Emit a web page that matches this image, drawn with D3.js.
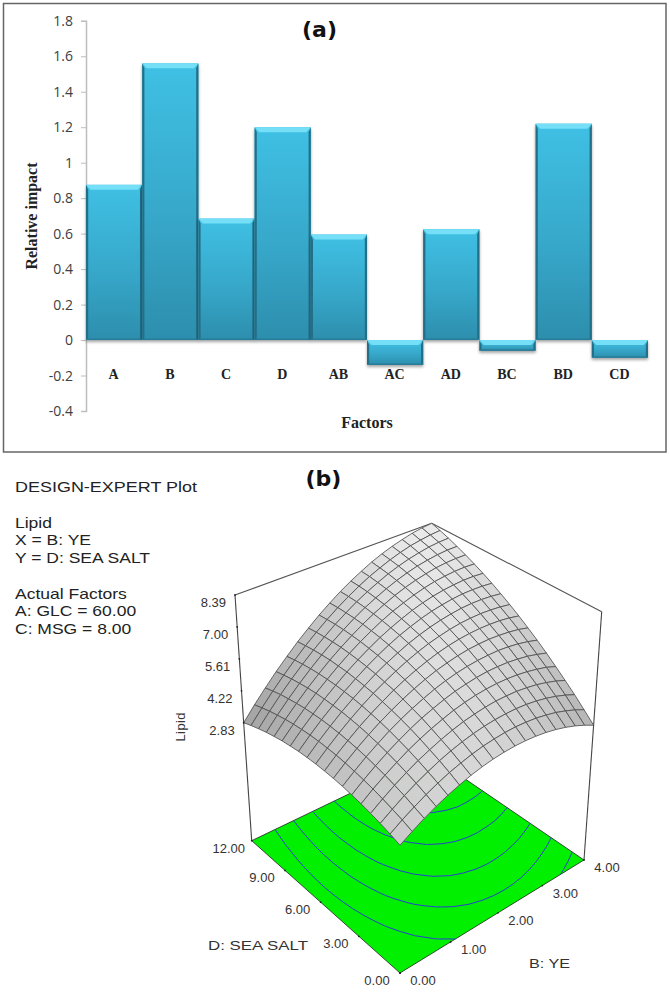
<!DOCTYPE html>
<html>
<head>
<meta charset="utf-8"/>
<title>Relative impact and lipid response surface</title>
<style>
  body, html {margin:0;padding:0;background:#fff;overflow:hidden;}
  svg {display:block;}
</style>
<script src="https://cdn.jsdelivr.net/npm/d3@7"></script>
</head>
<body>
<svg id="chart" width="670" height="998"></svg>
<script>
// panel (a)
var factors = ["A","B","C","D","AB","AC","AD","BC","BD","CD"];
var impact = [0.875,1.56,0.685,1.2,0.595,-0.14,0.625,-0.06,1.22,-0.1];
var impactTicks = [1.8,1.6,1.4,1.2,1,0.8,0.6,0.4,0.2,0,-0.2,-0.4];

// panel (b)
var legendLines = ["DESIGN-EXPERT Plot","","Lipid","X = B: YE","Y = D: SEA SALT","","Actual Factors","A: GLC = 60.00","C: MSG = 8.00"];
var lipidTicks = [2.83,4.22,5.61,7.00,8.39];
var yeTicks = [0,1,2,3,4];
var saltTicks = [0,3,6,9,12];
var contourLevels = [4.0,4.85,5.65,6.45,7.2];
// lipid, rows = SEA SALT 0..12, columns = YE 0..4
var lipid = [
[2.85,3.14,3.41,3.64,3.84,4.01,4.16,4.27,4.35,4.40,4.42,4.41,4.37,4.30,4.20,4.07,3.91,3.72,3.50],
[2.99,3.30,3.57,3.82,4.04,4.23,4.38,4.51,4.61,4.67,4.71,4.72,4.69,4.64,4.55,4.44,4.29,4.12,3.91],
[3.11,3.43,3.73,3.99,4.22,4.43,4.60,4.74,4.85,4.93,4.98,5.00,5.00,4.96,4.89,4.79,4.66,4.50,4.31],
[3.21,3.55,3.86,4.14,4.39,4.60,4.79,4.95,5.08,5.17,5.24,5.28,5.28,5.26,5.20,5.12,5.00,4.86,4.68],
[3.30,3.66,3.98,4.27,4.54,4.77,4.97,5.14,5.29,5.40,5.48,5.53,5.55,5.54,5.50,5.43,5.33,5.21,5.04],
[3.37,3.74,4.08,4.39,4.67,4.92,5.14,5.32,5.48,5.61,5.70,5.77,5.81,5.81,5.79,5.73,5.65,5.53,5.39],
[3.43,3.81,4.17,4.49,4.79,5.05,5.28,5.48,5.66,5.80,5.91,5.99,6.04,6.06,6.06,6.02,5.95,5.85,5.72],
[3.47,3.87,4.24,4.58,4.89,5.16,5.41,5.63,5.82,5.98,6.10,6.20,6.27,6.30,6.31,6.28,6.23,6.15,6.03],
[3.49,3.91,4.29,4.65,4.97,5.26,5.53,5.76,5.96,6.13,6.28,6.39,6.47,6.52,6.54,6.53,6.50,6.43,6.33],
[3.50,3.93,4.33,4.70,5.04,5.35,5.62,5.87,6.09,6.28,6.44,6.56,6.66,6.73,6.76,6.77,6.74,6.69,6.61],
[3.49,3.94,4.35,4.74,5.09,5.41,5.71,5.97,6.20,6.41,6.58,6.72,6.83,6.91,6.97,6.99,6.98,6.94,6.87],
[3.47,3.93,4.36,4.75,5.12,5.46,5.77,6.05,6.30,6.52,6.70,6.86,6.99,7.08,7.15,7.19,7.19,7.17,7.12],
[3.42,3.90,4.34,4.76,5.14,5.50,5.82,6.11,6.38,6.61,6.81,6.99,7.13,7.24,7.32,7.37,7.40,7.39,7.35],
[3.37,3.86,4.32,4.75,5.14,5.51,5.85,6.16,6.44,6.69,6.91,7.09,7.25,7.38,7.48,7.54,7.58,7.59,7.56],
[3.29,3.80,4.27,4.72,5.13,5.52,5.87,6.19,6.49,6.75,6.98,7.19,7.36,7.50,7.61,7.70,7.75,7.77,7.76],
[3.20,3.72,4.21,4.67,5.10,5.50,5.87,6.21,6.52,6.80,7.04,7.26,7.45,7.61,7.74,7.83,7.90,7.94,7.94],
[3.09,3.63,4.14,4.61,5.05,5.47,5.85,6.21,6.53,6.83,7.09,7.32,7.53,7.70,7.84,7.95,8.04,8.09,8.11],
[2.97,3.52,4.04,4.53,4.99,5.42,5.82,6.19,6.53,6.84,7.12,7.37,7.58,7.77,7.93,8.06,8.15,8.22,8.26],
[2.83,3.40,3.93,4.44,4.91,5.36,5.77,6.16,6.51,6.84,7.13,7.39,7.63,7.83,8.00,8.14,8.26,8.34,8.39]
];

var svg = d3.select("#chart");
var defs = svg.append("defs");

// ---------- panel (a) ----------
svg.append("rect").attr("x",3.5).attr("y",3.5).attr("width",662.5).attr("height",448.5)
   .attr("fill","#fff").attr("stroke","#666").attr("stroke-width",1.5);

var y = d3.scaleLinear().domain([-0.4,1.8]).range([411,20.8]);
var x = d3.scaleBand().domain(factors).range([86,648]).padding(0);

var grad = defs.append("linearGradient").attr("id","barFill").attr("x1",0).attr("x2",0).attr("y1",0).attr("y2",1);
grad.append("stop").attr("offset","0%").attr("stop-color","#3fc0e4");
grad.append("stop").attr("offset","55%").attr("stop-color","#37a8ca");
grad.append("stop").attr("offset","100%").attr("stop-color","#2d8ead");

var yAxis = d3.axisLeft(y).tickValues(impactTicks).tickSize(5).tickFormat(function(d){return String(d);});
var gy = svg.append("g").attr("transform","translate(86,0)").call(yAxis);
gy.select(".domain").attr("stroke","#bdbdbd").attr("stroke-width",1.5);
gy.selectAll(".tick line").attr("stroke","#bdbdbd").attr("stroke-width",1);
gy.selectAll(".tick text").attr("font-family","'Open Sans'").attr("font-size",14).attr("fill","#404040").attr("dx",-5);

var bars = svg.append("g").selectAll("g").data(factors).enter().append("g")
   .style("filter","drop-shadow(0 2px 1.5px rgba(0,0,0,.35))");
bars.each(function(f,i){
  var g = d3.select(this), v = impact[i];
  var x0 = x(f), x1 = x0 + x.bandwidth();
  var top = y(Math.max(v,0)), bot = y(Math.min(v,0));
  var bev = Math.min(5,(bot-top)/2);
  var ed = 2.2;
  g.append("rect").attr("x",x0).attr("y",top).attr("width",x1-x0).attr("height",bot-top).attr("fill","url(#barFill)");
  // bevel strips
  g.append("path").attr("d",d3.line()([[x0,top],[x1,top],[x1-ed*2,top+bev],[x0+ed*2,top+bev]])+"Z").attr("fill","#74dff7");
  g.append("path").attr("d",d3.line()([[x0,top],[x0+ed,top+bev],[x0+ed,bot-1.5],[x0,bot]])+"Z").attr("fill","#236f88");
  g.append("path").attr("d",d3.line()([[x1,top],[x1-ed,top+bev],[x1-ed,bot-1.5],[x1,bot]])+"Z").attr("fill","#236f88");
  g.append("path").attr("d",d3.line()([[x0,bot],[x1,bot],[x1-ed,bot-1.5],[x0+ed,bot-1.5]])+"Z").attr("fill","#267d98");
});

svg.append("g").selectAll("text").data(factors).enter().append("text")
   .attr("x",function(d){return x(d)+x.bandwidth()/2-0.5;}).attr("y",379)
   .attr("text-anchor","middle").attr("font-family","'Liberation Serif'").attr("font-weight","bold")
   .attr("font-size",14).attr("fill","#222").text(function(d){return d;});

svg.append("text").attr("transform","translate(37,216) rotate(-90)").attr("text-anchor","middle")
   .attr("font-family","'Liberation Serif'").attr("font-weight","bold").attr("font-size",16).attr("fill","#222").text("Relative impact");
svg.append("text").attr("x",367).attr("y",428).attr("text-anchor","middle")
   .attr("font-family","'Liberation Serif'").attr("font-weight","bold").attr("font-size",16).attr("fill","#222").text("Factors");
svg.append("text").attr("x",319.5).attr("y",37).attr("text-anchor","middle")
   .attr("font-family","'DejaVu Sans'").attr("font-weight","bold").attr("font-size",22).attr("fill","#111").text("(a)");
svg.append("text").attr("x",323.5).attr("y",486).attr("text-anchor","middle")
   .attr("font-family","'DejaVu Sans'").attr("font-weight","bold").attr("font-size",22).attr("fill","#111").text("(b)");

// ---------- panel (b) ----------
// the legend type is wider than it is tall, so smaller glyphs get stretched sideways
var legendY = d3.scaleLinear().domain([0,8]).range([492,634]);
var legend = svg.append("g").selectAll("text").data(legendLines).enter().append("text")
   .attr("x",15).attr("y",function(d,i){return legendY(i);})
   .attr("font-family","'Liberation Sans'").attr("font-size",15).attr("fill","#222").text(function(d){return d;});
legend.filter(function(d){return d!="";})
   .attr("lengthAdjust","spacingAndGlyphs")
   .attr("textLength",function(d,i){return i==0 ? 182 : this.getComputedTextLength()*17.5/15;});

var nRow = lipid.length, nCol = lipid[0].length;
var ye = d3.scaleLinear().domain([0,4]).range([0,1]);
var salt = d3.scaleLinear().domain([0,12]).range([0,1]);
var colU = d3.scaleLinear().domain([0,nCol-1]).range([0,1]);
var rowV = d3.scaleLinear().domain([0,nRow-1]).range([0,1]);
var lift = d3.scaleLinear().domain([2.83,8.39]).range([0.48,1]);

// box corners on the page: (ye 0,salt 0), (4,0), (4,12), (0,12)
var floorQuad = [[400,973],[584,860],[430,755],[251.7,840.7]];
var topQuad = [[400,708],[601.7,611.7],[431.7,523.3],[235,595]];

function homography(q){
  var dx1=q[1][0]-q[2][0], dx2=q[3][0]-q[2][0], sx=q[0][0]-q[1][0]+q[2][0]-q[3][0];
  var dy1=q[1][1]-q[2][1], dy2=q[3][1]-q[2][1], sy=q[0][1]-q[1][1]+q[2][1]-q[3][1];
  var den=dx1*dy2-dx2*dy1;
  var g=(sx*dy2-dx2*sy)/den, h=(dx1*sy-sx*dy1)/den;
  var a=q[1][0]-q[0][0]+g*q[1][0], b=q[3][0]-q[0][0]+h*q[3][0];
  var d=q[1][1]-q[0][1]+g*q[1][1], e=q[3][1]-q[0][1]+h*q[3][1];
  return function(u,v){
    var k=g*u+h*v+1;
    return [(a*u+b*v+q[0][0])/k,(d*u+e*v+q[0][1])/k];
  };
}
var floorAt = homography(floorQuad), topAt = homography(topQuad);
function project(u,v,w){
  var p=floorAt(u,v), t=topAt(u,v);
  return [p[0]+(t[0]-p[0])*w, p[1]+(t[1]-p[1])*w];
}

var plot = svg.append("g");
// floor
plot.append("path").attr("d",d3.line()(floorQuad)+"Z").attr("fill","#00f000").attr("stroke","#222").attr("stroke-width",0.8);

// contours on the floor
var flat = d3.merge(lipid);
var contours = d3.contours().size([nCol,nRow]).thresholds(contourLevels)(flat);
var floorLine = d3.line();
contours.forEach(function(c){
  c.coordinates.forEach(function(poly){
    poly.forEach(function(ring){
      var run=[];
      function flush(){
        if(run.length>1) plot.append("path").attr("d",floorLine(run)).attr("fill","none").attr("stroke","#2b3fd0").attr("stroke-width",1);
        run=[];
      }
      ring.forEach(function(pt){
        var cx=pt[0]-0.5, cy=pt[1]-0.5;
        if(cx<0||cy<0||cx>nCol-1||cy>nRow-1) flush();
        else run.push(floorAt(colU(cx),rowV(cy)));
      });
      flush();
    });
  });
});

// box edges
[[0,1],[1,1],[1,0]].reduce(function(a,b){
  plot.append("path").attr("d",d3.line()([project(a[0],a[1],1),project(b[0],b[1],1)])).attr("stroke","#555").attr("stroke-width",1.1).attr("fill","none");
  return b;
});
[[0,1],[1,0]].forEach(function(c){
  plot.append("path").attr("d",d3.line()([project(c[0],c[1],0),project(c[0],c[1],1)])).attr("stroke","#444").attr("stroke-width",1.1).attr("fill","none");
});

// surface, far cells first
var gray = d3.scaleLinear().domain([0,11]).range([255,160]).clamp(true);
var cells = svg.append("g");
for(var r=nRow-2;r>=0;r--){
  for(var c=nCol-2;c>=0;c--){
    var u0=colU(c),u1=colU(c+1),v0=rowV(r),v1=rowV(r+1);
    var z00=lipid[r][c],z10=lipid[r][c+1],z11=lipid[r+1][c+1],z01=lipid[r+1][c];
    var sx=((z10+z11)-(z00+z01))/2/(u1-u0), sy=((z01+z11)-(z00+z10))/2/(v1-v0);
    var g=Math.round(gray(Math.sqrt(sx*sx+sy*sy)));
    cells.append("path")
      .attr("d",d3.line()([project(u0,v0,lift(z00)),project(u1,v0,lift(z10)),project(u1,v1,lift(z11)),project(u0,v1,lift(z01))])+"Z")
      .attr("fill",d3.rgb(g,g,g)).attr("stroke","#505050").attr("stroke-width",0.85).attr("stroke-linejoin","round");
  }
}

// tick labels and tick dots
var lab = svg.append("g").attr("font-family","'Liberation Sans'").attr("font-size",13).attr("fill","#333");
function dot(p){ svg.append("circle").attr("cx",p[0]).attr("cy",p[1]).attr("r",0.9).attr("fill","#222"); }
lipidTicks.forEach(function(t){
  var p=project(0,salt(12),lift(t));
  lab.append("text").attr("x",p[0]-9).attr("y",p[1]+12).attr("text-anchor","end").text(t.toFixed(2));
  dot(p);
});
saltTicks.forEach(function(t){
  var p=floorAt(0,salt(t));
  lab.append("text").attr("x",p[0]-23).attr("y",p[1]+12).attr("text-anchor","middle").text(t.toFixed(2));
  dot(p);
});
yeTicks.forEach(function(t){
  var p=floorAt(ye(t),0);
  lab.append("text").attr("x",p[0]+23).attr("y",p[1]+12).attr("text-anchor","middle").text(t.toFixed(2));
  dot(p);
});
lab.append("text").attr("transform","translate(185,727) rotate(-90)").attr("text-anchor","middle").attr("textLength",29).text("Lipid");
lab.append("text").attr("x",208).attr("y",950).attr("textLength",100).attr("lengthAdjust","spacingAndGlyphs").text("D: SEA SALT");
lab.append("text").attr("x",529).attr("y",968).attr("textLength",41).attr("lengthAdjust","spacingAndGlyphs").text("B: YE");
</script>
</body>
</html>
